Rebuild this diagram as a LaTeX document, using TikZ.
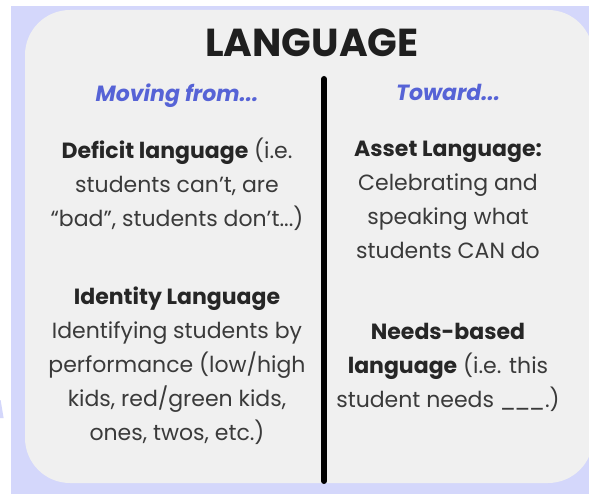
\documentclass[tikz,border=0pt]{standalone}
\usepackage{fontspec}
\setmainfont{Poppins}
\usetikzlibrary{calc}
\definecolor{lavbg}{RGB}{212,215,251}
\definecolor{cardgray}{RGB}{240,240,240}
\definecolor{fromblue}{RGB}{86,99,214}
\definecolor{inkgray}{RGB}{58,58,58}
\tikzstyle{title}=[anchor=base,inner sep=0,text=black!88,font={\fontsize{39}{39}\selectfont\bfseries}]
\tikzstyle{subhead}=[anchor=base,inner sep=0,text=fromblue,font={\fontsize{22}{22}\selectfont\bfseries\itshape}]
\tikzstyle{body}=[anchor=base,inner sep=0,align=center,text=inkgray,font={\fontsize{22}{34}\selectfont}]
\tikzstyle{divider}=[black,line width=6,line cap=round]

\begin{document}
\begin{tikzpicture}[x=1pt,y=-1pt]
  \message{Language card^^J}
  
  \def\xl{177} % centre of left column
  \def\xr{448} % centre of right column
  
  % BACKGROUND
  \useasboundingbox (0,0) rectangle (589,494);
  \clip (0,0) rectangle (589,494);
  \fill[white] (0,0) rectangle (589,494);
  \fill[lavbg] (11,6) rectangle (589,494);
  \fill[lavbg] (0,400) -- (0.6,400) -- (3.6,418) -- (0,418) -- cycle;
  \fill[cardgray,rounded corners=45] (25,10) rectangle (593,483);
  
  % DIVIDER
  \coordinate (divtop) at (324,79);
  \coordinate (divbot) at (324,481);
  \draw[divider] (divtop) -- (divbot);
  
  % HEADINGS
  \node[title]   (title)  at (312,57)  {LANGUAGE};
  \node[subhead] (from)   at (\xl,102) {Moving from...};
  \node[subhead] (toward) at (\xr,101) {Toward...};
  
  % LEFT COLUMN (base = last line)
  \node[body] (deficit) at (\xl,227)
    {{\color{black!85}\bfseries Deficit language} (i.e.\\students can’t, are\\“bad”, students don’t...)};
  \node[body] (identity) at (\xl,440)
    {{\color{black!85}\bfseries Identity Language}\\Identifying students by\\performance (low/high\\kids, red/green kids,\\ones, twos, etc.)};
  
  % RIGHT COLUMN
  \node[body] (asset) at (\xr,259)
    {{\color{black!85}\bfseries Asset Language:}\\Celebrating and\\speaking what\\students CAN do};
  \node[body] (needs) at (\xr,407)
    {{\color{black!85}\bfseries Needs-based}\\{\color{black!85}\bfseries language} (i.e. this\\student needs \_\kern-1.6pt\_\kern-1.6pt\_.)};
  
\end{tikzpicture}
\end{document}
